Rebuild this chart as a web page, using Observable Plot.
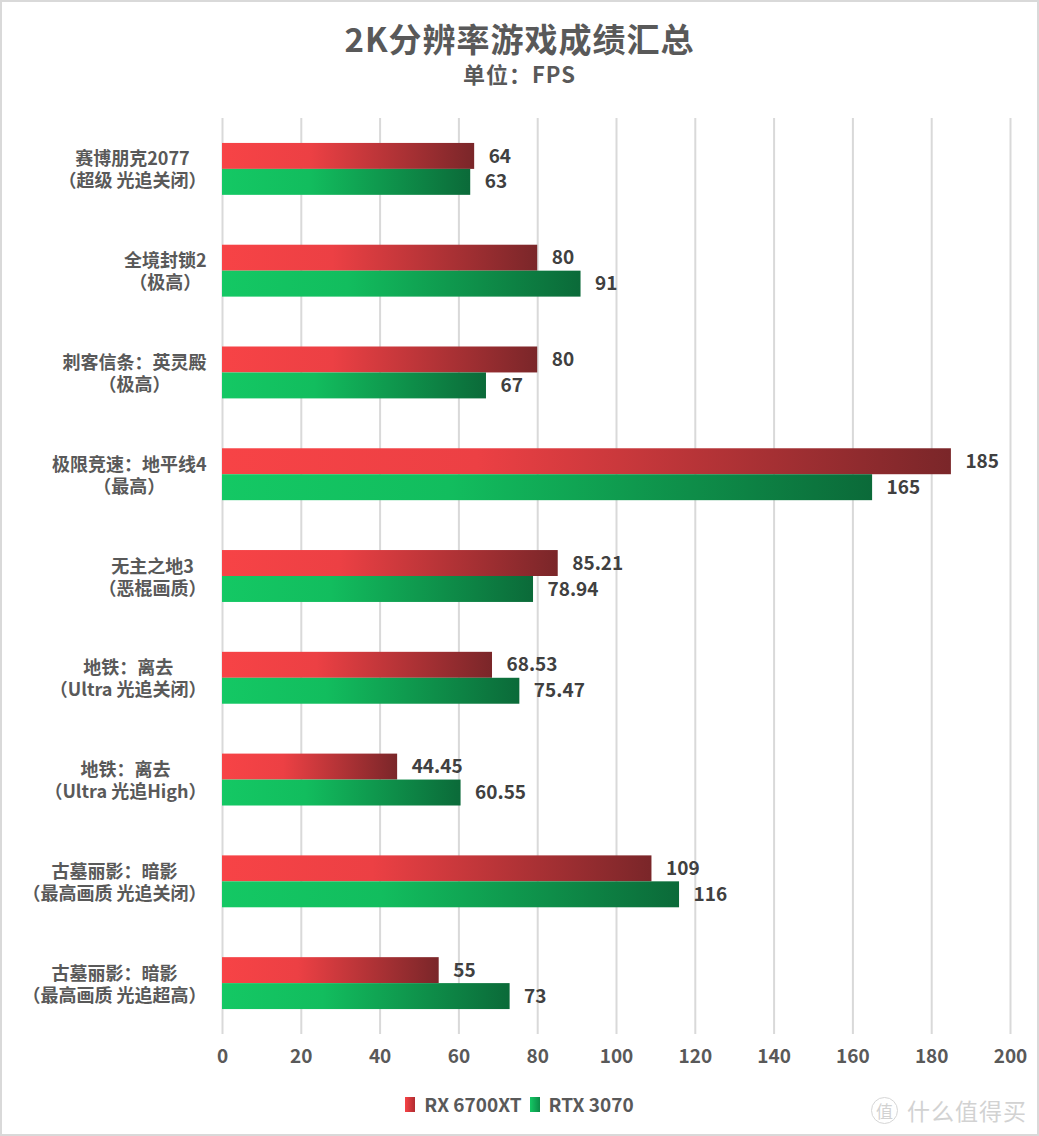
<!DOCTYPE html>
<html>
<head>
<meta charset="utf-8">
<script src="https://cdn.jsdelivr.net/npm/d3@7"></script>
<script src="https://cdn.jsdelivr.net/npm/@observablehq/plot@0.6"></script>
<style>
  html, body { margin: 0; padding: 0; background: #fff; }
  #page { position: relative; width: 1039px; height: 1136px; overflow: hidden; background: #fff;
          font-family: "Noto Sans CJK SC", "Microsoft YaHei", sans-serif; }
  #frame { position: absolute; left: 0; top: 0; width: 1039px; height: 1136px; box-sizing: border-box;
           border: 2px solid #d9d9d9; pointer-events: none; }
  #title { position: absolute; left: 0; width: 1039px; top: 18px; text-align: center; font-size: 33px;
           font-weight: bold; color: #595959; line-height: 40px; letter-spacing: 1px; }
  #subtitle { position: absolute; left: 0; width: 1039px; top: 59px; text-align: center; font-size: 22px;
              font-weight: bold; color: #595959; line-height: 28px; letter-spacing: 1px; }
  #chart { position: absolute; left: 0; top: 100px; }
  #legend { position: absolute; left: 0; width: 1039px; top: 1090px; height: 28px; display: flex;
            justify-content: center; align-items: center; font-size: 19px; font-weight: bold; color: #595959; }
  #legend .sw { display: inline-block; width: 10px; height: 15px; margin-right: 9px; }
  #legend .item { display: flex; align-items: center; margin: 0 4px; line-height: 28px; }
  #wm { position: absolute; left: 871px; top: 1096px; display: flex; align-items: center; color: #d2d2d2; }
  #wm .c { display: inline-block; width: 25px; height: 25px; border: 1.5px solid #d6d6d6; border-radius: 50%;
           font-size: 17px; line-height: 25px; text-align: center; margin-right: 9px; }
  #wm .t { font-size: 23px; letter-spacing: 1px; line-height: 28px; }
</style>
</head>
<body>
<div id="page">
  <div id="title">2K分辨率游戏成绩汇总</div>
  <div id="subtitle">单位：FPS</div>
  <div id="chart"></div>
  <div id="legend"></div>
  <div id="wm"><span class="c">值</span><span class="t">什么值得买</span></div>
  <div id="frame"></div>
</div>
<script>
// ---- data ----
const categories = [
  "赛博朋克2077\n（超级 光追关闭）",
  "全境封锁2\n（极高）",
  "刺客信条：英灵殿\n（极高）",
  "极限竞速：地平线4\n（最高）",
  "无主之地3\n（恶棍画质）",
  "地铁：离去\n（Ultra 光追关闭）",
  "地铁：离去\n（Ultra 光追High）",
  "古墓丽影：暗影\n（最高画质 光追关闭）",
  "古墓丽影：暗影\n（最高画质 光追超高）"
];
const seriesNames = ["RX 6700XT", "RTX 3070"];
const rx6700xt = [64, 80, 80, 185, 85.21, 68.53, 44.45, 109, 55];
const rtx3070 = [63, 91, 67, 165, 78.94, 75.47, 60.55, 116, 73];
const xTicks = [0, 20, 40, 60, 80, 100, 120, 140, 160, 180, 200];

// ---- styles ----
const redStops = [["0%", "#f74346"], ["35%", "#ec4044"], ["100%", "#7a2629"]];
const greenStops = [["0%", "#14c864"], ["35%", "#12bd5e"], ["100%", "#0b6a39"]];
const labelFont = "bold 18px 'Noto Sans CJK SC'";

const redRows = categories.map((g, i) => ({game: g, series: seriesNames[0], value: rx6700xt[i]}));
const greenRows = categories.map((g, i) => ({game: g, series: seriesNames[1], value: rtx3070[i]}));

const W = 1039, H = 980;
const mTop = 18, mBottom = 46, mLeft = 222, mRight = 29;
const band = (H - mTop - mBottom) / categories.length;
const half = band * 0.51 / 2;

function defs() {
  const d = d3.create("svg:defs");
  for (const [id, stops] of [["gradRed", redStops], ["gradGreen", greenStops]]) {
    const lg = d.append("linearGradient").attr("id", id).attr("x1", 0).attr("x2", 1).attr("y1", 0).attr("y2", 0);
    for (const [o, c] of stops) lg.append("stop").attr("offset", o).attr("stop-color", c);
  }
  return d.node();
}

// measure label widths to center lines within a right-aligned block
const ctx = document.createElement("canvas").getContext("2d");
ctx.font = labelFont;
const labelMarks = categories.map(g => {
  const w = d3.max(g.split("\n"), l => ctx.measureText(l).width);
  return Plot.text([g], {
    y: d => d, text: d => d, frameAnchor: "left", textAnchor: "middle",
    dx: -16 - w / 2, fontSize: 18, fontWeight: "bold", fill: "#595959", lineHeight: 1.22
  });
});

const chart = Plot.plot({
  width: W, height: H,
  marginTop: mTop, marginBottom: mBottom, marginLeft: mLeft, marginRight: mRight,
  style: {fontFamily: "'Noto Sans CJK SC', sans-serif", background: "transparent"},
  x: {domain: [0, 200]},
  y: {domain: categories, paddingInner: 0.49, paddingOuter: 0.245, round: false, axis: null},
  marks: [
    defs,
    Plot.gridX(xTicks, {stroke: "#d9d9d9", strokeOpacity: 1, strokeWidth: 2}),
    Plot.axisX(xTicks, {tickSize: 0, tickPadding: 15, fontSize: 19, fontWeight: "bold", color: "#595959", label: null}),
    Plot.barX(redRows, {y: "game", x: "value", fill: "url(#gradRed)", insetBottom: half}),
    Plot.barX(greenRows, {y: "game", x: "value", fill: "url(#gradGreen)", insetTop: half}),
    Plot.text(redRows, {y: "game", x: "value", text: d => String(d.value), dy: -half / 2, dx: 14,
      textAnchor: "start", fontSize: 19, fontWeight: "bold", fill: "#404040"}),
    Plot.text(greenRows, {y: "game", x: "value", text: d => String(d.value), dy: half / 2, dx: 14,
      textAnchor: "start", fontSize: 19, fontWeight: "bold", fill: "#404040"}),
    ...labelMarks
  ]
});
document.getElementById("chart").appendChild(chart);

// legend
const legend = d3.select("#legend");
[[seriesNames[0], "linear-gradient(to right, #f74346, #b02c31)"],
 [seriesNames[1], "linear-gradient(to right, #14c864, #0c8a47)"]].forEach(([name, bg]) => {
  const it = legend.append("div").attr("class", "item");
  it.append("span").attr("class", "sw").style("background", bg);
  it.append("span").text(name);
});
</script>
</body>
</html>
